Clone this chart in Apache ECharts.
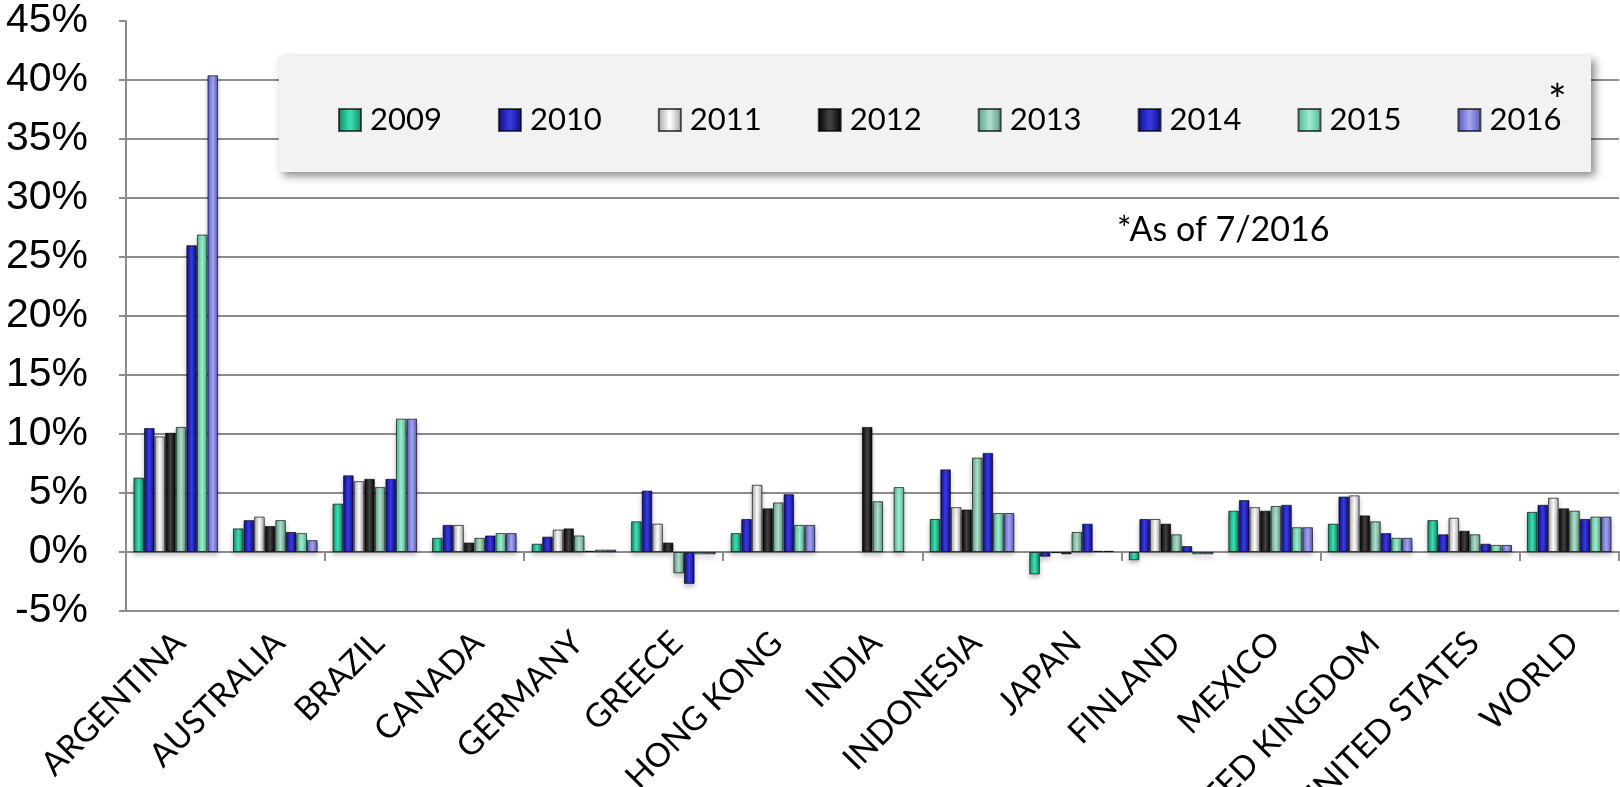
<!DOCTYPE html>
<html>
<head>
    <meta charset="utf-8" />
    <script src="https://cdn.jsdelivr.net/npm/echarts@6/dist/echarts.min.js"></script>
    <title></title>
    <style>
        html, body { margin: 0; padding: 0; background: #fff; }
    </style>
</head>
<body>
    <div id="main" style="width: 1620px;height:787px;"></div>
</body>
</html>
<script>
    // countries on the x axis
    var countries = ['ARGENTINA', 'AUSTRALIA', 'BRAZIL', 'CANADA', 'GERMANY', 'GREECE', 'HONG KONG', 'INDIA',
        'INDONESIA', 'JAPAN', 'FINLAND', 'MEXICO', 'UNITED KINGDOM', 'UNITED STATES', 'WORLD'];
    var years = ['2009', '2010', '2011', '2012', '2013', '2014', '2015', '2016'];

    // inflation in %, one array per year (null = no bar)
    var y2009 = [6.3, 2.0, 4.1, 1.2, 0.7, 2.6, 1.6, null, 2.8, -1.9, -0.7, 3.5, 2.4, 2.7, 3.4];
    var y2010 = [10.5, 2.7, 6.5, 2.3, 1.3, 5.2, 2.8, null, 7.0, -0.4, 2.8, 4.4, 4.7, 1.5, 4.0];
    var y2011 = [9.8, 3.0, 6.0, 2.3, 1.9, 2.4, 5.7, null, 3.8, -0.1, 2.8, 3.8, 4.8, 2.9, 4.6];
    var y2012 = [10.1, 2.2, 6.2, 0.8, 2.0, 0.8, 3.7, 10.6, 3.6, -0.2, 2.4, 3.5, 3.1, 1.8, 3.7];
    var y2013 = [10.6, 2.7, 5.5, 1.2, 1.4, -1.8, 4.2, 4.3, 8.0, 1.7, 1.5, 3.9, 2.6, 1.5, 3.5];
    var y2014 = [26.0, 1.7, 6.2, 1.4, 0.1, -2.7, 4.9, null, 8.4, 2.4, 0.5, 4.0, 1.6, 0.7, 2.8];
    var y2015 = [26.9, 1.6, 11.3, 1.6, 0.2, -0.2, 2.3, 5.5, 3.3, 0.1, -0.2, 2.1, 1.2, 0.6, 3.0];
    var y2016 = [40.4, 1.0, 11.3, 1.6, 0.2, -0.2, 2.3, null, 3.3, 0.1, -0.2, 2.1, 1.2, 0.6, 3.0];
    var values = [y2009, y2010, y2011, y2012, y2013, y2014, y2015, y2016];

    // [edge, centre] colours of each year's bars
    var colors = [
        ['#0c8864', '#3fe2b6'],
        ['#0b0b85', '#3b3be6'],
        ['#a4a4a4', '#ffffff'],
        ['#000000', '#444444'],
        ['#5c9c82', '#b0e0cb'],
        ['#0b0b85', '#3b3be6'],
        ['#4cb68e', '#a2eed0'],
        ['#5858bc', '#a6a6f4']
    ];

    function barColor(c) {
        return new echarts.graphic.LinearGradient(0, 0, 1, 0, [
            { offset: 0, color: c[0] },
            { offset: 0.5, color: c[1] },
            { offset: 1, color: c[0] }
        ]);
    }

    var series = [];
    for (var i = 0; i < years.length; i++) {
        series.push({
            name: years[i],
            type: 'bar',
            data: values[i],
            barGap: '0%',
            barCategoryGap: '15%',
            itemStyle: {
                color: barColor(colors[i]),
                borderColor: 'rgba(0,0,0,0.65)',
                borderWidth: 1,
                shadowBlur: 5,
                shadowOffsetY: 3,
                shadowColor: 'rgba(0,0,0,0.25)'
            }
        });
    }

    var chart = echarts.init(document.getElementById('main'));
    var option = {
        backgroundColor: '#fff',
        animation: false,
        grid: { left: 126, right: 1, top: 21, bottom: 176, outerBoundsMode: 'none', containLabel: false },
        legend: {
            data: years,
            left: 333,
            top: 99,
            z: 60,
            icon: 'rect',
            itemWidth: 22,
            itemHeight: 22,
            itemGap: 56,
            textStyle: { color: '#000', fontFamily: 'Lato', fontSize: 31, lineHeight: 32, padding: [0, 0, 0, 4] }
        },
        graphic: [
            {
                type: 'rect', z: 50,
                shape: { x: 279, y: 56, width: 1312, height: 116 },
                style: { fill: '#f2f2f2', shadowBlur: 8, shadowOffsetX: 4, shadowOffsetY: 4, shadowColor: 'rgba(0,0,0,0.45)' }
            },
            {
                type: 'text', z: 60, left: 1548, top: 80,
                style: { text: '*', font: '44px Lato', fill: '#000' }
            },
            {
                type: 'text', z: 60, left: 1117, top: 213,
                style: { text: '*As of 7/2016', font: '34px Lato', fill: '#000' }
            }
        ],
        xAxis: [
            {
                type: 'category',
                data: countries,
                axisLine: { onZero: true, lineStyle: { color: '#8c8c8c', width: 2 } },
                axisTick: { show: true, length: 9, lineStyle: { color: '#8c8c8c', width: 2 } },
                axisLabel: { show: false }
            },
            {
                type: 'category',
                data: countries,
                position: 'bottom',
                axisLine: { show: false, onZero: false },
                axisTick: { show: false },
                axisLabel: {
                    interval: 0,
                    rotate: 45,
                    align: 'right',
                    verticalAlign: 'top',
                    margin: 7,
                    padding: [0, 11, 0, 0],
                    color: '#000',
                    fontFamily: 'Lato',
                    fontSize: 33
                }
            }
        ],
        yAxis: {
            type: 'value',
            min: -5,
            max: 45,
            interval: 5,
            axisLine: { show: true, lineStyle: { color: '#8c8c8c', width: 2 } },
            axisTick: { show: true, length: 7, lineStyle: { color: '#8c8c8c', width: 2 } },
            axisLabel: {
                formatter: '{value}%',
                margin: 38,
                color: '#000',
                fontFamily: 'Liberation Sans',
                fontSize: 41
            },
            splitLine: { showMaxLine: false, lineStyle: { color: '#8c8c8c', width: 2 } }
        },
        series: series
    };
    chart.setOption(option);
</script>
